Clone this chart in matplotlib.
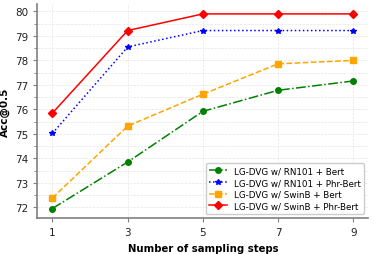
import numpy as np
import matplotlib
matplotlib.use("Agg")
import matplotlib.pyplot as plt
from matplotlib.ticker import MultipleLocator

steps = [1, 3, 5, 7, 9]
rn101_bert = [71.95, 73.85, 75.92, 76.78, 77.16]
rn101_phr = [75.02, 78.55, 79.22, 79.22, 79.22]
swinb_bert = [72.38, 75.32, 76.62, 77.86, 78.0]
swinb_phr = [75.85, 79.22, 79.9, 79.9, 79.9]

fig, ax = plt.subplots(figsize=(3.74, 2.55), dpi=100)

ax.plot(steps, rn101_bert, color='green', linestyle='-.', marker='o', markersize=4,
        linewidth=1.1, label='LG-DVG w/ RN101 + Bert')
ax.plot(steps, rn101_phr, color='blue', linestyle=':', marker='*', markersize=4,
        linewidth=1.1, label='LG-DVG w/ RN101 + Phr-Bert')
ax.plot(steps, swinb_bert, color='orange', linestyle='--', marker='s', markersize=4,
        linewidth=1.1, label='LG-DVG w/ SwinB + Bert')
ax.plot(steps, swinb_phr, color='red', linestyle='-', marker='D', markersize=4,
        linewidth=1.1, label='LG-DVG w/ SwinB + Phr-Bert')

ax.set_xlim(0.6, 9.4)
ax.set_ylim(71.55, 80.3)
ax.set_xticks(steps)
ax.yaxis.set_major_locator(MultipleLocator(1))
ax.yaxis.set_minor_locator(MultipleLocator(0.5))
ax.tick_params(labelsize=7.5, colors='#222222')
ax.tick_params(axis='y', which='minor', length=2, color='gray')
ax.tick_params(axis='both', which='major', length=3, color='gray')

ax.grid(True, which='both', linestyle='--', linewidth=0.5, color='#e6e6e6')
ax.set_axisbelow(True)
for s in ['top', 'right']:
    ax.spines[s].set_visible(False)
for s in ['left', 'bottom']:
    ax.spines[s].set_color('gray')
    ax.spines[s].set_linewidth(1.2)

ax.set_xlabel('Number of sampling steps', fontsize=7.3, fontweight='bold')
ax.set_ylabel('Acc@0.5', fontsize=7.5, fontweight='bold')
ax.legend(fontsize=6.3, loc='lower right', handlelength=2, borderpad=0.4,
          labelspacing=0.3, framealpha=1)

plt.subplots_adjust(left=0.1, right=0.985, top=0.98, bottom=0.14)
plt.savefig('out.png')
